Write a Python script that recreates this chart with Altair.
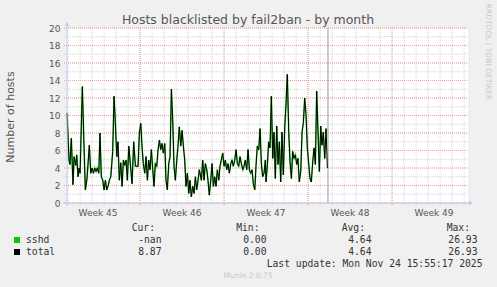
import altair as alt
import pandas as pd

# ---- data (x = fractional day of November 2025) ----
day = [2.91, 3.08, 3.16, 3.27, 3.41, 3.50, 3.64, 3.72, 3.83, 3.91, 4.00, 4.19, 4.33, 4.44, 4.56, 4.66,
       4.77, 4.89, 5.00, 5.11, 5.22, 5.33, 5.44, 5.56, 5.66, 5.77, 5.89, 6.00, 6.11, 6.22, 6.33, 6.44,
       6.56, 6.72, 6.83, 6.94, 7.06, 7.16, 7.27, 7.39, 7.50, 7.61, 7.72, 7.83, 7.94, 8.06, 8.16, 8.33,
       8.47, 8.61, 8.83, 8.94, 9.06, 9.16, 9.27, 9.39, 9.50, 9.61, 9.72, 9.83, 9.94, 10.06, 10.16, 10.27,
       10.39, 10.50, 10.61, 10.72, 10.83, 10.94, 11.06, 11.16, 11.27, 11.39, 11.50, 11.61, 11.72, 11.83,
       11.94, 12.06, 12.16, 12.27, 12.39, 12.50, 12.61, 12.72, 12.83, 12.94, 13.06, 13.16, 13.27, 13.39,
       13.50, 13.61, 13.72, 13.83, 13.94, 14.11, 14.22, 14.33, 14.44, 14.56, 14.66, 14.77, 14.89, 15.00,
       15.11, 15.22, 15.33, 15.44, 15.56, 15.66, 15.77, 15.89, 16.00, 16.11, 16.22, 16.33, 16.44, 16.56,
       16.66, 16.77, 16.89, 17.00, 17.11, 17.22, 17.33, 17.44, 17.56, 17.66, 17.77, 17.89, 18.00, 18.11,
       18.22, 18.33, 18.44, 18.56, 18.66, 18.77, 18.89, 19.00, 19.11, 19.22, 19.33, 19.44, 19.50, 19.61,
       19.72, 19.83, 19.94, 20.06, 20.16, 20.27, 20.39, 20.50, 20.61, 20.72, 20.83, 20.94, 21.06, 21.16,
       21.27, 21.39, 21.50, 21.61, 21.72, 21.83, 21.94, 22.06, 22.16, 22.27, 22.39, 22.50, 22.61, 22.72,
       22.83, 22.94, 23.06, 23.16, 23.27, 23.39, 23.50, 23.61, 23.72, 23.83, 23.94, 24.06, 24.16, 24.27,
       24.39, 24.50, 24.61]
total = [10.3, 4.9, 4.4, 7.4, 2.1, 5.3, 4.3, 5.5, 3.0, 4.0, 3.4, 13.3, 6.4, 1.5, 2.6, 4.4,
         6.6, 3.4, 4.0, 3.4, 4.0, 3.6, 4.0, 3.4, 8.0, 3.0, 2.6, 1.5, 2.6, 1.5, 1.9, 2.6,
         3.0, 5.9, 12.2, 9.2, 5.3, 7.0, 2.6, 4.6, 1.9, 4.9, 4.3, 4.9, 2.6, 6.5, 4.9, 2.2,
         7.0, 4.2, 4.2, 8.0, 9.1, 6.5, 4.5, 3.4, 5.3, 2.6, 4.9, 3.8, 6.1, 3.8, 1.9, 4.5,
         4.2, 6.1, 7.2, 6.1, 6.8, 5.7, 6.8, 2.6, 1.5, 4.5, 5.3, 13.0, 9.5, 4.2,
         2.6, 4.9, 6.5, 8.7, 6.5, 8.3, 6.5, 4.9, 1.9, 3.4, 1.1, 2.6, 0.7, 1.9,
         1.1, 3.0, 1.5, 2.6, 3.8, 2.6, 4.9, 2.6, 4.5, 3.8, 2.6, 0.9, 2.6, 4.5,
         1.9, 3.0, 1.9, 3.8, 2.6, 4.2, 4.9, 5.7, 4.2, 4.9, 3.8, 4.5, 3.4, 4.5,
         4.9, 4.2, 4.9, 6.1, 4.5, 4.2, 5.3, 4.5, 3.8, 4.2, 4.9, 3.8, 6.1, 3.8,
         3.4, 3.8, 2.2, 1.5, 4.2, 6.5, 6.1, 8.5, 4.5, 3.0, 3.4, 4.9, 2.4, 4.4,
         7.0, 6.3, 12.2, 5.1, 8.1, 2.8, 8.8, 4.4, 7.0, 2.4, 8.1, 3.2, 8.8, 11.2,
         14.7, 8.1, 4.7, 2.8, 5.9, 5.1, 5.5, 4.4, 5.1, 2.4, 3.6, 8.1, 9.2, 12.0,
         10.1, 6.3, 4.4, 2.8, 2.4, 4.7, 6.3, 4.4, 12.8, 8.1, 3.6, 8.8, 6.6, 8.1,
         5.1, 8.5, 4.0]
sshd = total[:-1]          # last sshd sample is NaN ("-nan")
now_day = 24.66            # Mon Nov 24 15:55:17

week_mid = [5.5, 12.5, 19.5, 26.5, 33.5]
week_labels = ["Week 45", "Week 46", "Week 47", "Week 48", "Week 49"]
week_starts = [9, 16, 23, 30]
day_ticks = list(range(3, 37))
y_major = list(range(0, 21, 2))
y_minor = list(range(0, 21))

series_names = ["sshd", "total"]
series_colors = ["#00CC00", "#000000"]
cur_vals = ["-nan", "8.87"]
min_vals = ["0.00", "0.00"]
avg_vals = ["4.64", "4.64"]
max_vals = ["26.93", "26.93"]

# ---- layout ----
X0, Y0 = 67, 28
W, H = 401, 175
XDOM = [2.91, 36.33]
xs = alt.Scale(domain=XDOM)
ys = alt.Scale(domain=[0, 20])
AXC = "#c4c8f4"
GREY = "#555555"
YAX = alt.Axis(values=y_major, domain=False, ticks=False, grid=False, labelPadding=7,
               labelFont="DejaVu Sans", labelFontSize=9, labelColor=GREY, title=None)

df_tot = pd.DataFrame({"day": day, "v": total})
df_ssh = pd.DataFrame({"day": day[:len(sshd)], "v": sshd})

minor_v = alt.Chart(pd.DataFrame({"d": day_ticks})).mark_rule(
    color="#d2d2d2", strokeDash=[1, 1], strokeWidth=1).encode(
    x=alt.X("d:Q", scale=xs, axis=None), y=alt.value(0), y2=alt.value(H + 3))
minor_h = alt.Chart(pd.DataFrame({"v": y_minor})).mark_rule(
    color="#d2d2d2", strokeDash=[1, 1], strokeWidth=1).encode(
    y=alt.Y("v:Q", scale=ys, axis=YAX), x=alt.value(-3), x2=alt.value(W))
major_v = alt.Chart(pd.DataFrame({"d": week_starts})).mark_rule(
    color="#eea0a0", strokeDash=[1, 1], strokeWidth=1).encode(
    x=alt.X("d:Q", scale=xs, axis=None), y=alt.value(0), y2=alt.value(H + 3))
major_h = alt.Chart(pd.DataFrame({"v": y_major})).mark_rule(
    color="#eea0a0", strokeDash=[1, 1], strokeWidth=1).encode(
    y=alt.Y("v:Q", scale=ys, axis=YAX), x=alt.value(-3), x2=alt.value(W))
now_rule = alt.Chart(pd.DataFrame({"d": [now_day]})).mark_rule(
    color="#999999", strokeWidth=1).encode(
    x=alt.X("d:Q", scale=xs, axis=None), y=alt.value(0), y2=alt.value(H))

line_ssh = alt.Chart(df_ssh).mark_line(color="#00CC00", strokeWidth=1.6, opacity=0.75).encode(
    x=alt.X("day:Q", scale=xs, axis=None), y=alt.Y("v:Q", scale=ys, axis=YAX))
line_tot = alt.Chart(df_tot).mark_line(color="#000000", strokeWidth=1).encode(
    x=alt.X("day:Q", scale=xs, axis=None), y=alt.Y("v:Q", scale=ys, axis=YAX))

one = alt.Data(values=[{"k": 0}])
x_axis = alt.Chart(one).mark_rule(color=AXC, strokeWidth=1).encode(
    x=alt.value(-4), x2=alt.value(W + 3), y=alt.value(H))
y_axis = alt.Chart(one).mark_rule(color=AXC, strokeWidth=1).encode(
    x=alt.value(0), y=alt.value(H + 3), y2=alt.value(-5))
arrow_up = alt.Chart(one).mark_point(shape="triangle-up", filled=True, color=AXC, size=22, opacity=1).encode(
    x=alt.value(0), y=alt.value(-4))
arrow_right = alt.Chart(one).mark_point(shape="triangle-right", filled=True, color=AXC, size=22, opacity=1).encode(
    x=alt.value(W + 3), y=alt.value(H))

week_txt = alt.Chart(pd.DataFrame({"d": week_mid, "t": week_labels})).mark_text(
    font="DejaVu Sans", fontSize=9, color=GREY, baseline="middle", align="center").encode(
    x=alt.X("d:Q", scale=xs, axis=None), y=alt.value(212.5 - Y0), text="t:N")


def txt(s, ax, ay, size, color, align="left", font="DejaVu Sans Mono", angle=0, baseline="middle"):
    return alt.Chart(one).mark_text(text=s, align=align, baseline=baseline, font=font,
                                    fontSize=size, color=color, angle=angle).encode(
        x=alt.value(ax - X0), y=alt.value(ay - Y0))


LC = "#333333"
FS = 9.7
texts = [
    txt("Hosts blacklisted by fail2ban - by month", 248, 24, 12.5, GREY, align="center",
        font="DejaVu Sans", baseline="alphabetic"),
    txt("Number of hosts", 11, 117, 11, GREY, align="center", font="DejaVu Sans", angle=270),
    txt("RRDTOOL / TOBI OETIKER", 488, 52, 7.5, "#c8c8c8", align="center", font="DejaVu Sans", angle=90),
    txt("Cur:", 155, 227.5, FS, LC, align="right"),
    txt("Min:", 259.5, 227.5, FS, LC, align="right"),
    txt("Avg:", 365, 227.5, FS, LC, align="right"),
    txt("Max:", 470, 227.5, FS, LC, align="right"),
    txt("Last update: Mon Nov 24 15:55:17 2025", 482.5, 264, FS, LC, align="right"),
    txt("Munin 2.0.75", 248, 276, 7.5, "#c8c8c8", align="center", font="DejaVu Sans"),
]
row_y = [240, 252]
for i in range(len(series_names)):
    ry = row_y[i]
    texts.append(alt.Chart(one).mark_square(color=series_colors[i], size=36, opacity=1).encode(
        x=alt.value(17 - X0), y=alt.value(ry - Y0)))
    texts.append(txt(series_names[i], 26, ry, FS, LC))
    texts.append(txt(cur_vals[i], 161.5, ry, FS, LC, align="right"))
    texts.append(txt(min_vals[i], 266.5, ry, FS, LC, align="right"))
    texts.append(txt(avg_vals[i], 371.5, ry, FS, LC, align="right"))
    texts.append(txt(max_vals[i], 477.5, ry, FS, LC, align="right"))

chart = alt.layer(
    minor_v, minor_h, major_v, major_h, now_rule, line_ssh, line_tot,
    x_axis, y_axis, arrow_up, arrow_right, week_txt, *texts
).properties(
    width=W, height=H,
    autosize=alt.AutoSizeParams(type="none"),
    padding={"left": X0, "top": Y0, "right": 497 - X0 - W, "bottom": 287 - Y0 - H},
    background="#F0F0F0",
).configure_view(stroke=None, fill="white")

chart.save("out.html", embed_options={"renderer": "svg", "actions": False})
